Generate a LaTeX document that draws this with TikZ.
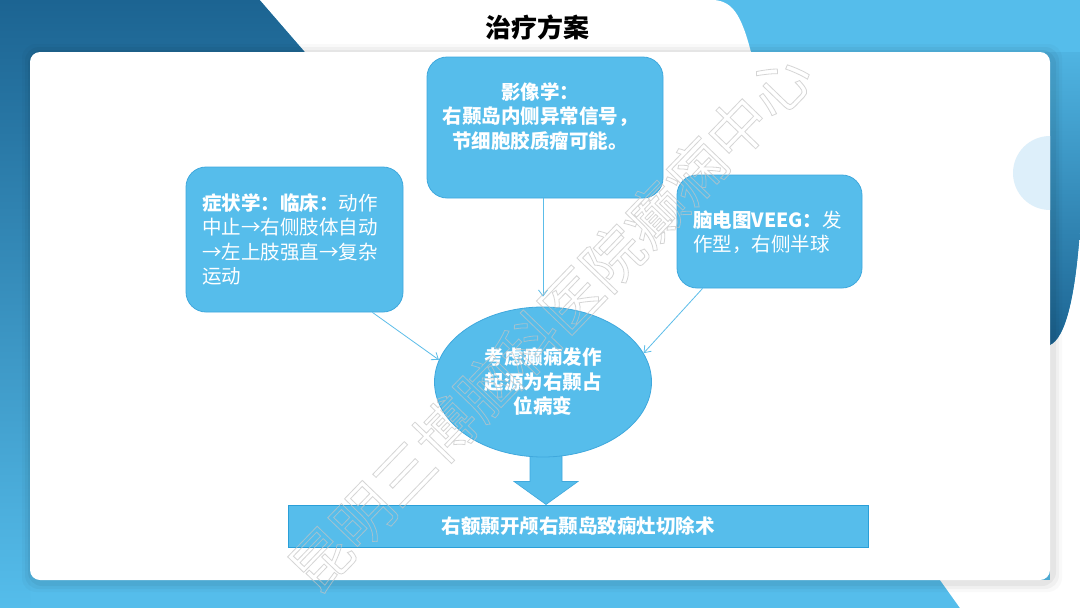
\documentclass[tikz,border=0pt]{standalone}
\usepackage{fontspec}
\setmainfont{Noto Sans CJK SC}
\usetikzlibrary{shapes.geometric,arrows.meta,calc}
\definecolor{lblue}{HTML}{55BDEB}
\definecolor{dblue}{HTML}{1C6492}
\definecolor{boxfill}{HTML}{56BDEB}
\definecolor{boxline}{HTML}{3FA8DD}
\definecolor{rectline}{HTML}{2A9FD8}
\definecolor{conncol}{HTML}{5CBDE9}
\definecolor{pale}{HTML}{DDEFFA}
\definecolor{wmark}{HTML}{C4C4C4}
\newcommand{\fsn}{\fontsize{19.5}{24.5}\selectfont}
\newcommand{\fsb}{\fontsize{19.5}{24.5}\selectfont\bfseries}
\begin{document}
\begin{tikzpicture}[x=1pt,y=-1pt,
  box/.style={draw=boxline,line width=0.8pt,fill=boxfill,rounded corners=20pt,inner sep=0pt},
  boxtext/.style={text=white,inner sep=0pt},
  conn/.style={draw=conncol,line width=0.8pt,-{Straight Barb[length=6pt,width=9pt]}},
  blockarrow/.style={draw=boxline,line width=0.6pt,fill=boxfill}]
\useasboundingbox (0,0) rectangle (1080,608);
% background
\fill[lblue] (0,0) rectangle (1080,608);
\shade[top color=dblue,bottom color=lblue] (0,0) -- (260,0) -- (312,60) -- (30,60) -- (30,608) -- (0,608) -- cycle;
\fill[white] (260,0) -- (712,0) .. controls (735,0) and (743,20) .. (753,60) -- (312,60) -- cycle;
\fill[white] (1080,230) .. controls (1075,300) and (1065,338) .. (1050,345) -- (1050,580) -- (940,580) -- (960,608) -- (1080,608) -- cycle;
\shade[top color=lblue!90!dblue,bottom color=dblue] (1045,52) -- (1080,52) -- (1080,230) .. controls (1075,300) and (1065,338) .. (1050,345) -- (1045,345) -- cycle;
% card shadow
\foreach \s/\o in {10/0.025,7/0.035,4/0.045}
  \fill[black,opacity=\o,rounded corners=14pt] ({30-\s+2},{52-\s+2}) rectangle ({1050+\s+2},{580+\s+2});
% card
\fill[white,rounded corners=10pt] (30,52) rectangle (1050,580);
\begin{scope}
  \clip (1000,100) rectangle (1050,250);
  \fill[pale] (1050,173) circle (37pt);
\end{scope}
% title
\node[font=\fontsize{26}{30}\selectfont\bfseries,text=black] (title) at (537,27) {治疗方案};
% boxes
\node[box,minimum width=217pt,minimum height=145pt] (lbox) at (294.5,239.5) {};
\node[boxtext,text width=185pt,align=left,font=\fsn] (ltext) at (lbox.center) {\textbf{症状学：临床：}动作\\中止→右侧肢体自动\\→左上肢强直→复杂\\运动};
\node[box,minimum width=236pt,minimum height=141pt] (tbox) at (545,127.5) {};
\node[boxtext,align=center,font=\fsb] (ttext) at (540,116.5) {影像学：\\右颞岛内侧异常信号，\\节细胞胶质瘤可能。};
\node[box,minimum width=185pt,minimum height=113pt] (rbox) at (769.5,231.5) {};
\node[boxtext,text width=160pt,align=left,font=\fsn] (rtext) at (773,232) {\textbf{脑电图VEEG：}发\\作型，右侧半球};
% bottom rect
\node[draw=rectline,line width=1pt,fill=boxfill,minimum width=580pt,minimum height=42pt,inner sep=0pt,text=white,font=\fsb] (brect) at (578,526) {右额颞开颅右颞岛致痫灶切除术};
% block arrow
\coordinate (tip) at ($(brect.north)+(-32,0)$);
\filldraw[blockarrow] ($(tip)+(-16,-55)$) -- ($(tip)+(16,-55)$) -- ($(tip)+(16,-23)$) -- ($(tip)+(32,-23)$) -- (tip) -- ($(tip)+(-32,-23)$) -- ($(tip)+(-16,-23)$) -- cycle;
% ellipse
\node[ellipse,draw=boxline,line width=0.8pt,fill=boxfill,minimum width=217pt,minimum height=150pt,inner sep=0pt,text=white,align=center,font=\fsb] (ell) at (543,382) {考虑癫痫发作\\起源为右颞占\\位病变};
% connectors
\draw[conn] ([xshift=-31pt]lbox.south east) -- (ell.168);
\draw[conn] ([xshift=-2pt]tbox.south) -- ([yshift=10pt]ell.north);
\draw[conn] ([xshift=26pt]rbox.south west) -- (ell.16);
% watermark
\node[rotate=46,text=wmark,opacity=0.7,font=\fontsize{60}{64}\selectfont] (wm) at (550,322) {\special{pdf:literal direct 1 Tr 0.8 w}昆明三博脑科医院癫痫中心\special{pdf:literal direct 0 Tr}};
\end{tikzpicture}
\end{document}
